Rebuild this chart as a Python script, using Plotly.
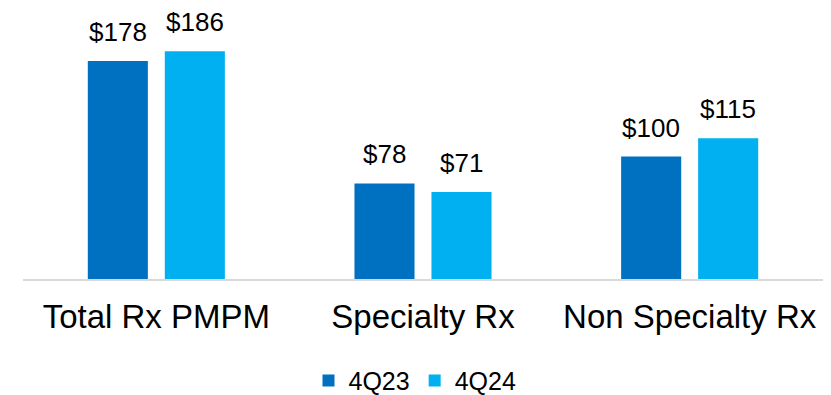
import plotly.graph_objects as go

categories = ["Total Rx PMPM", "Specialty Rx", "Non Specialty Rx"]
series_names = ["4Q23", "4Q24"]
values_4q23 = [178, 78, 100]
values_4q24 = [186, 71, 115]
colors = ["#0070C0", "#00B0F0"]

W, H = 831, 395
ML, MR, MT, MB = 23, 8, 10, 116
BARGAP, GROUPGAP = 0.4225, 0.22
FONT = "Liberation Sans, Arial, sans-serif"

fig = go.Figure()
for name, vals, col in zip(series_names, [values_4q23, values_4q24], colors):
    fig.add_trace(go.Bar(
        x=categories, y=vals, name=name, marker_color=col,
        marker_line_width=0, hoverinfo="x+y",
    ))

# value labels above bars
plot_w = W - ML - MR
cat_w = plot_w / len(categories)
slot = cat_w * (1 - BARGAP) / len(series_names)
annotations = []
for si, vals in enumerate([values_4q23, values_4q24]):
    off = (si - (len(series_names) - 1) / 2) * slot
    for c, v in zip(categories, vals):
        annotations.append(dict(
            x=c, y=v, xref="x", yref="y", text=f"${v}", showarrow=False,
            xanchor="center", yanchor="bottom", xshift=off, yshift=12,
            font=dict(size=26, color="#000000", family=FONT),
        ))

fig.update_layout(
    width=W, height=H,
    margin=dict(l=ML, r=MR, t=MT, b=MB, autoexpand=False),
    plot_bgcolor="white", paper_bgcolor="white",
    barmode="group", bargap=BARGAP, bargroupgap=GROUPGAP,
    font=dict(family=FONT, color="#000000"),
    showlegend=True,
    legend=dict(orientation="h", x=0.49, xanchor="center", y=-0.378, yanchor="middle",
                font=dict(size=25), traceorder="normal", itemwidth=30,
                maxheight=120, borderwidth=0),
    annotations=annotations,
)
fig.update_xaxes(showline=True, linecolor="#D9D9D9", linewidth=2, automargin=False,
                 tickfont=dict(size=33), ticks="", ticklabelstandoff=7)
fig.update_yaxes(range=[0, 219.6], visible=False, showgrid=False, automargin=False)

# remove the default 8px page margin so the figure fills the window exactly
fig.write_html(
    "out.html",
    config={"displayModeBar": False},
    post_script="document.body.style.margin='0';document.body.style.overflow='hidden';",
)
